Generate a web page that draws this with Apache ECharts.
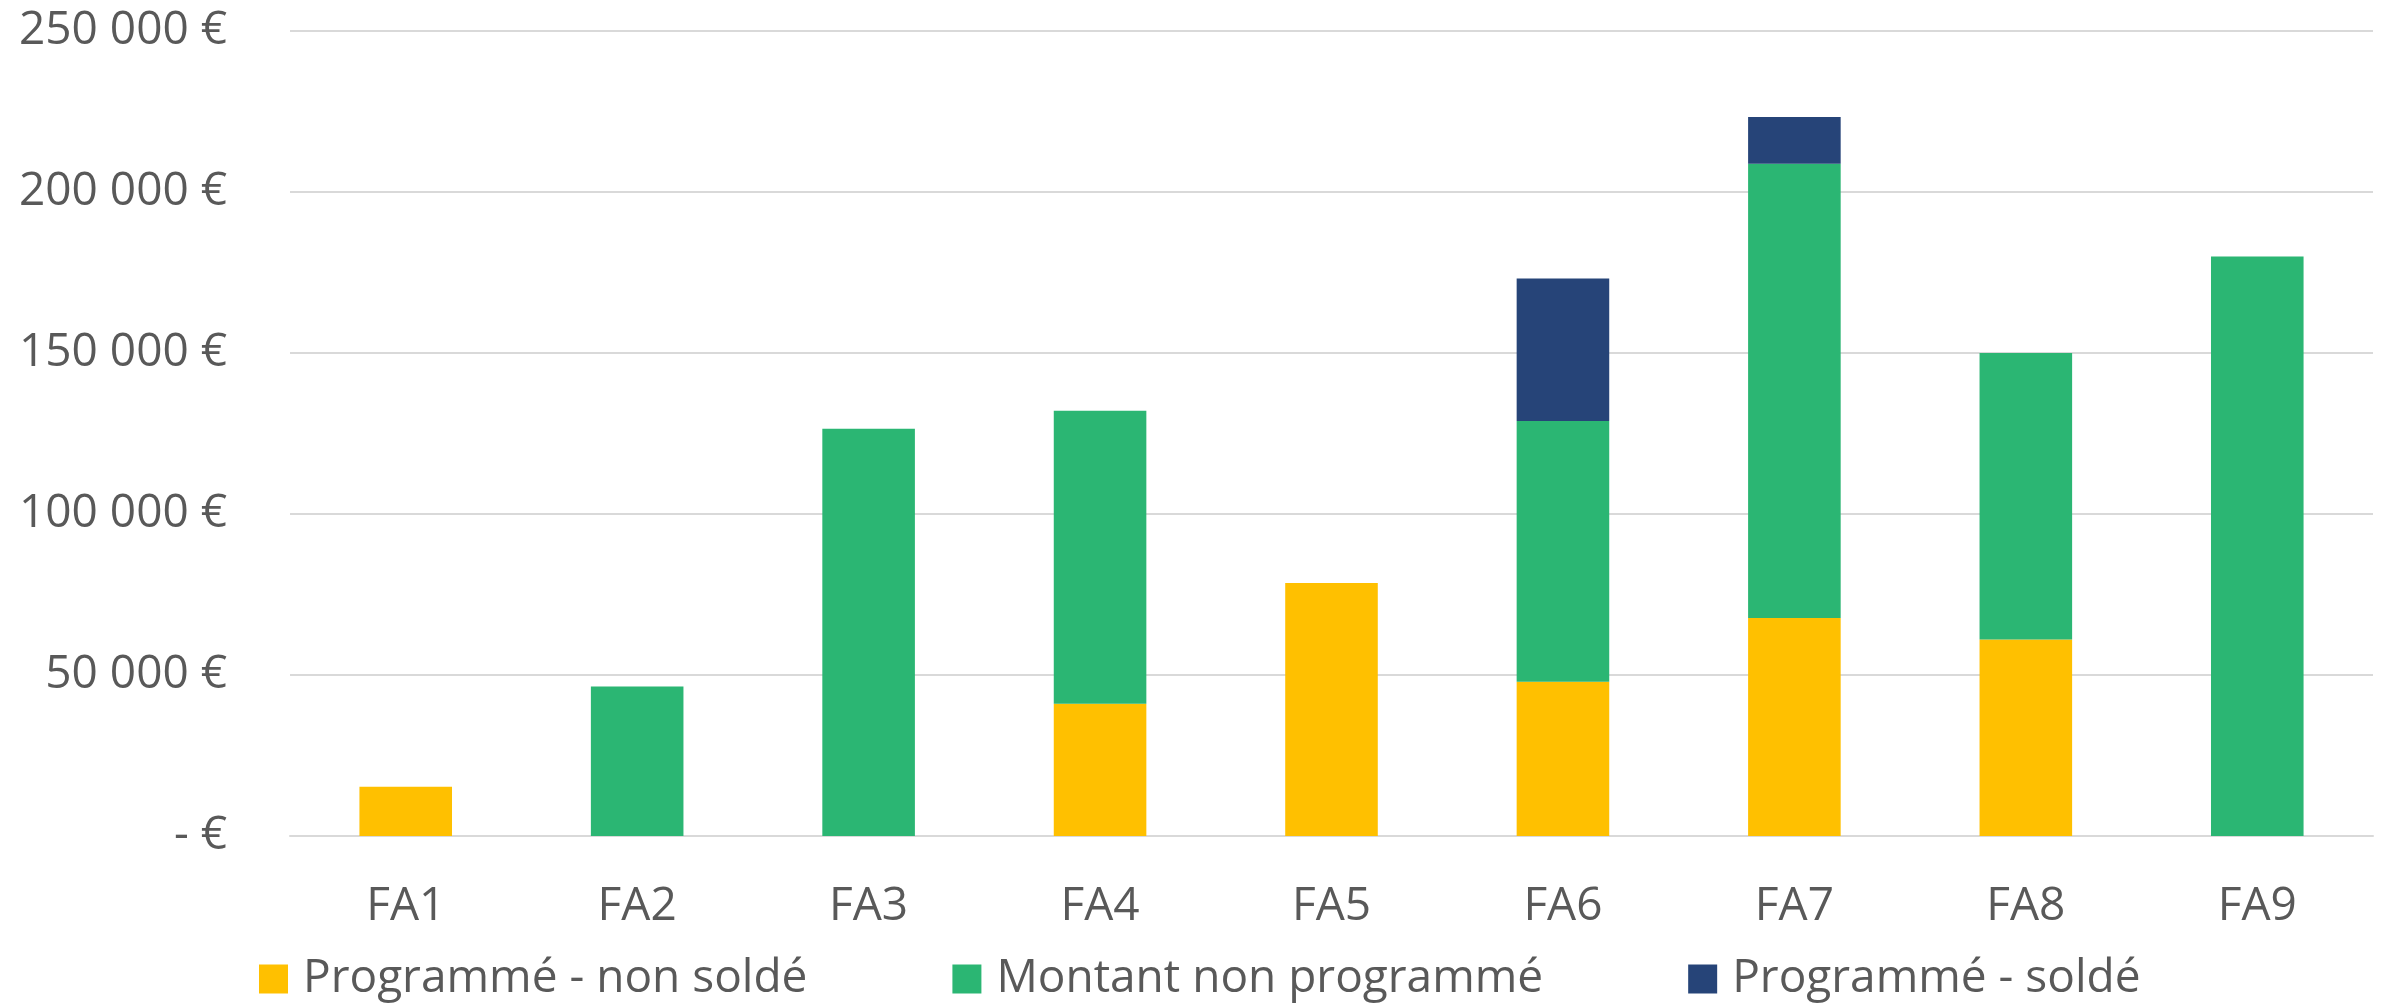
<!DOCTYPE html>
<html>
<head>
<meta charset="utf-8">
<script src="https://cdn.jsdelivr.net/npm/echarts@6/dist/echarts.min.js"></script>
<style>
  html, body { margin: 0; padding: 0; background: #fff; }
  #chart { width: 2387px; height: 1004px; }
</style>
</head>
<body>
<div id="chart"></div>
<script>
const categories = ['FA1', 'FA2', 'FA3', 'FA4', 'FA5', 'FA6', 'FA7', 'FA8', 'FA9'];
const nonSolde = [15300, 0, 0, 41100, 78600, 47900, 67700, 61000, 0];
const nonProgramme = [0, 46400, 126500, 91000, 0, 81000, 141100, 89000, 180000];
const solde = [0, 0, 0, 0, 0, 44200, 14500, 0, 0];

const textColor = '#595959';
const fontFamily = '"Open Sans", sans-serif';

const euro = (v) => {
  if (v === 0) return '- €';
  return String(v).replace(/\B(?=(\d{3})+(?!\d))/g, ' ') + ' €';
};

const chart = echarts.init(document.getElementById('chart'));

const option = {
  animation: false,
  grid: { left: 290, right: 14, top: 31, bottom: 168, containLabel: false },
  legend: {
    left: 254,
    top: 951,
    itemWidth: 29,
    itemHeight: 29,
    itemGap: 145,
    icon: 'rect',
    textStyle: { color: textColor, fontSize: 46, fontFamily: fontFamily, padding: [0, 0, 0, 10] },
    data: ['Programmé - non soldé', 'Montant non programmé', 'Programmé - soldé']
  },
  xAxis: {
    type: 'category',
    data: categories,
    axisLine: { show: true, lineStyle: { color: '#D9D9D9', width: 2 } },
    axisTick: { show: false },
    axisLabel: { color: textColor, fontSize: 46, fontFamily: fontFamily, margin: 48 }
  },
  yAxis: {
    type: 'value',
    min: 0,
    max: 250000,
    interval: 50000,
    axisLine: { show: false },
    axisTick: { show: false },
    splitLine: { lineStyle: { color: '#D9D9D9', width: 2 } },
    axisLabel: { color: textColor, fontSize: 46, fontFamily: fontFamily, margin: 63, formatter: euro }
  },
  series: [
    {
      name: 'Programmé - non soldé',
      type: 'bar',
      stack: 'total',
      barWidth: '40%',
      itemStyle: { color: '#FFC000' },
      data: nonSolde
    },
    {
      name: 'Montant non programmé',
      type: 'bar',
      stack: 'total',
      barWidth: '40%',
      itemStyle: { color: '#2BB673' },
      data: nonProgramme
    },
    {
      name: 'Programmé - soldé',
      type: 'bar',
      stack: 'total',
      barWidth: '40%',
      itemStyle: { color: '#264478' },
      data: solde
    }
  ]
};

chart.setOption(option);
</script>
</body>
</html>
